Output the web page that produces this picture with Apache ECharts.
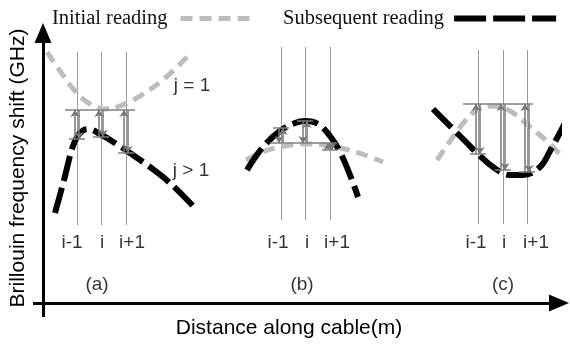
<!DOCTYPE html>
<html>
<head>
<meta charset="utf-8">
<script src="https://cdn.jsdelivr.net/npm/echarts@6/dist/echarts.min.js"></script>
<style>
    html, body { margin: 0; padding: 0; background: #fff; }
    #chart { width: 570px; height: 348px; }
</style>
</head>
<body>
<div id="chart"></div>
<script>
// units: x = distance from the vertical axis, y = height above the horizontal axis
// initial reading (grey) for the three cases
const initialA = [[4, 251], [17, 232], [32, 212], [47, 199], [62, 194], [77, 197], [97, 207], [122, 225], [147, 249]];
const initialB = [[203, 143], [222, 152], [242, 157], [262, 159], [282, 158], [302, 154], [322, 148], [340, 141]];
const initialC = [[394, 143], [410, 166], [422, 182], [434, 193], [449, 197], [467, 192], [487, 176], [507, 159], [520, 145]];
// subsequent reading (black)
const subsequentA = [[12, 90], [21, 123], [30, 157], [37, 170], [45, 174], [57, 169], [72, 160], [87, 150], [107, 136], [127, 120], [152, 95]];
const subsequentB = [[204, 133], [220, 156], [237, 172], [252, 180], [262, 182], [275, 179], [287, 167], [297, 151], [307, 128], [315, 106]];
const subsequentC = [[390, 194], [409, 175], [423, 161], [434, 150], [450, 136], [467, 128], [480, 128], [497, 136], [507, 152], [522, 180]];

// sample points i-1, i, i+1 of each case
const guideX = [[34, 58, 83], [238, 262, 287], [435, 460, 484]];
const guideTop = [251, 256, 253];
const guideBottom = [78, 83, 79];
const refY = [193, 160, 199];
const refXRange = [[22, 92], [227, 294], [420, 490]];
const arrowEndY = [[164, 166, 150], [175, 182, 153], [149, 133, 131]];

const tickLabels = ['i-1', 'i', 'i+1'];
const tickLabelX = [[29, 59, 89], [235, 264, 294], [433, 461, 493]];
const panelNames = ['(a)', '(b)', '(c)'];
const panelNameX = [54, 259, 460];
const jLabels = [{ name: 'j = 1', value: [149, 217] }, { name: 'j > 1', value: [148, 132] }];

const sans = 'Liberation Sans, Arial, sans-serif';
const serif = 'Liberation Serif, Times New Roman, serif';

let guideLines = [];
let refLines = [];
let arrowLines = [];
let endTicks = [];
let labelData = [];
guideX.forEach((xs, p) => {
    refLines.push({ coords: [[refXRange[p][0], refY[p]], [refXRange[p][1], refY[p]]] });
    xs.forEach((x, k) => {
        let end = arrowEndY[p][k];
        guideLines.push({ coords: [[x, guideTop[p]], [x, guideBottom[p]]] });
        arrowLines.push({ coords: [[x - 2, end], [x - 2, refY[p]]] });
        arrowLines.push({ coords: [[x + 2, refY[p]], [x + 2, end]] });
        endTicks.push({ coords: [[x - 8, end], [x + 8, end]] });
        labelData.push({ name: tickLabels[k], value: [tickLabelX[p][k], 60] });
    });
    labelData.push({ name: panelNames[p], value: [panelNameX[p], 18] });
});

const greyStyle = { color: '#bdbdbd', width: 5, type: [12, 7] };
const blackStyle = { color: '#000', width: 6, type: [26, 7] };

function curve(name, data, style) {
    return {
        name: name,
        type: 'line',
        data: data,
        smooth: 0.4,
        symbol: 'none',
        clip: false,
        color: style.color,
        lineStyle: style,
        z: name === 'Initial reading' ? 2 : 3
    };
}

const chart = echarts.init(document.getElementById('chart'));
chart.setOption({
    animation: false,
    grid: { left: 43, right: 11, top: 33, bottom: 45 },
    legend: [
        {
            data: ['Initial reading'],
            left: 52,
            top: 8,
            padding: 0,
            align: 'right',
            itemWidth: 70,
            itemHeight: 14,
            itemStyle: { opacity: 0 },
            lineStyle: { type: [12, 7], width: 5, color: '#bdbdbd' },
            textStyle: { fontFamily: serif, fontSize: 20.5, color: '#111', padding: [0, 8, 0, 0] }
        },
        {
            data: ['Subsequent reading'],
            left: 283,
            top: 8,
            padding: 0,
            align: 'right',
            itemWidth: 102,
            itemHeight: 14,
            itemStyle: { opacity: 0 },
            lineStyle: { type: [32, 7], width: 6, color: '#000' },
            textStyle: { fontFamily: serif, fontSize: 20.5, color: '#111', padding: [0, 5, 0, 0] }
        }
    ],
    xAxis: {
        type: 'value',
        min: 0,
        max: 516,
        name: 'Distance along cable(m)',
        nameLocation: 'middle',
        nameGap: 15,
        nameTextStyle: { fontFamily: sans, fontSize: 21, color: '#000', padding: [0, 24, 0, 0] },
        axisLine: { show: true, symbol: ['none', 'triangle'], symbolSize: [17, 20], lineStyle: { color: '#000', width: 3 } },
        axisTick: { show: false },
        axisLabel: { show: false },
        splitLine: { show: false }
    },
    yAxis: {
        type: 'value',
        min: 0,
        max: 270,
        name: 'Brillouin frequency shift (GHz)',
        nameLocation: 'middle',
        nameGap: 14,
        nameTextStyle: { fontFamily: sans, fontSize: 21, color: '#000' },
        axisLine: { show: true, symbol: ['none', 'triangle'], symbolSize: [17, 20], lineStyle: { color: '#000', width: 3 } },
        axisTick: { show: false },
        axisLabel: { show: false },
        splitLine: { show: false }
    },
    series: [
        {
            // axis lines run a little past the origin
            type: 'lines',
            coordinateSystem: 'cartesian2d',
            clip: false,
            silent: true,
            lineStyle: { color: '#000', width: 3, opacity: 1 },
            data: [{ coords: [[0, 0], [0, -14]] }, { coords: [[-10, 0], [0, 0]] }]
        },
        {
            type: 'lines',
            coordinateSystem: 'cartesian2d',
            clip: false,
            silent: true,
            lineStyle: { color: '#9a9a9a', width: 1, opacity: 1 },
            data: guideLines,
            z: 1
        },
        {
            type: 'lines',
            coordinateSystem: 'cartesian2d',
            clip: false,
            silent: true,
            lineStyle: { color: '#808080', width: 1.5, opacity: 1 },
            data: refLines.concat(endTicks),
            z: 4
        },
        {
            type: 'lines',
            coordinateSystem: 'cartesian2d',
            clip: false,
            silent: true,
            symbol: ['none', 'arrow'],
            symbolSize: 7,
            lineStyle: { color: '#777', width: 1.5, opacity: 1 },
            data: arrowLines,
            z: 4
        },
        curve('Initial reading', initialA, greyStyle),
        curve('Initial reading', initialB, greyStyle),
        curve('Initial reading', initialC, greyStyle),
        curve('Subsequent reading', subsequentA, blackStyle),
        curve('Subsequent reading', subsequentB, blackStyle),
        curve('Subsequent reading', subsequentC, blackStyle),
        {
            type: 'scatter',
            data: labelData.concat(jLabels),
            symbolSize: 1,
            itemStyle: { color: 'transparent' },
            silent: true,
            label: {
                show: true,
                position: 'inside',
                formatter: '{b}',
                fontFamily: sans,
                fontSize: 19,
                color: '#000'
            },
            z: 5
        }
    ]
});
</script>
</body>
</html>
